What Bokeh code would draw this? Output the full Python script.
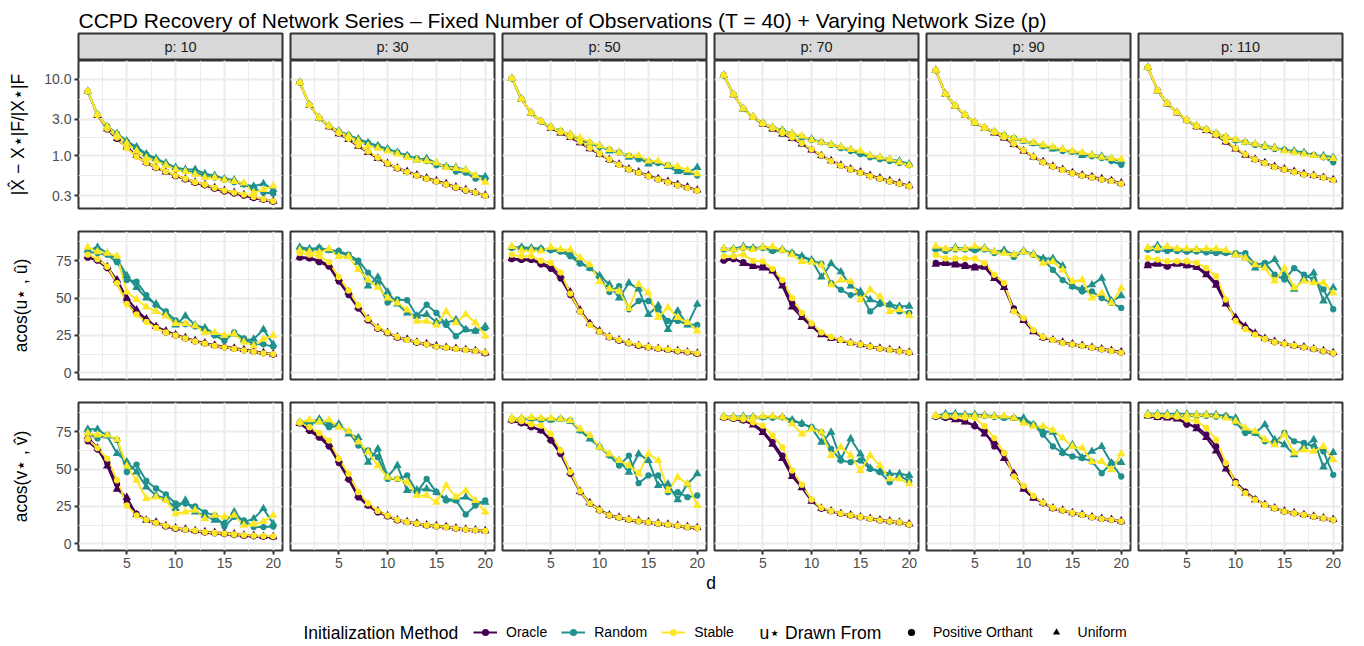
import math
from bokeh.plotting import figure
from bokeh.layouts import column, row
from bokeh.models import Range1d, FixedTicker, CustomJSTickFormatter, Label, Legend, LegendItem
from bokeh.embed import file_html
from bokeh.resources import INLINE

FONT = "Liberation Sans"

# ---------------- data ----------------
D = list(range(1, 21))
P_VALUES = [10, 30, 50, 70, 90, 110]
METHODS = ["Oracle", "Random", "Stable"]
METHOD_COLORS = ["#440154", "#21908C", "#FDE725"]
SHAPES = ["Positive Orthant", "Uniform"]
SHAPE_MARKERS = ["circle", "triangle"]
ERR_TICKS = [0.3, 1.0, 3.0, 10.0]
ANGLE_TICKS = [0, 25, 50, 75]
ANGLE_LIMITS = [0, 90]
D_TICKS = [5, 10, 15, 20]

# relative Frobenius error (one list per p)
ERR_ORACLE_PO = [
    [6.9, 3.4, 2.2, 1.65, 1.28, 0.98, 0.80, 0.69, 0.62, 0.54, 0.49, 0.44, 0.41, 0.37, 0.34, 0.32, 0.30, 0.28, 0.265, 0.25],
    [9.0, 4.6, 3.1, 2.4, 1.95, 1.65, 1.35, 1.12, 0.93, 0.78, 0.68, 0.61, 0.55, 0.50, 0.46, 0.42, 0.38, 0.35, 0.33, 0.30],
    [10.2, 5.5, 3.6, 2.8, 2.3, 2.0, 1.75, 1.5, 1.25, 1.05, 0.88, 0.76, 0.66, 0.60, 0.54, 0.49, 0.45, 0.41, 0.38, 0.35],
    [11.2, 6.3, 4.1, 3.2, 2.6, 2.25, 1.95, 1.7, 1.45, 1.2, 1.0, 0.85, 0.74, 0.66, 0.60, 0.54, 0.50, 0.46, 0.43, 0.40],
    [13.0, 6.4, 4.45, 3.4, 2.7, 2.3, 2.0, 1.72, 1.41, 1.16, 0.96, 0.82, 0.72, 0.65, 0.59, 0.55, 0.52, 0.49, 0.47, 0.43],
    [14.2, 7.1, 4.8, 3.65, 2.9, 2.4, 2.15, 1.86, 1.53, 1.23, 1.03, 0.89, 0.80, 0.71, 0.66, 0.61, 0.57, 0.55, 0.52, 0.48],
]
ERR_ORACLE_UN = [
    [6.9, 3.35, 2.25, 1.68, 1.3, 1.0, 0.82, 0.70, 0.61, 0.55, 0.50, 0.45, 0.42, 0.38, 0.35, 0.33, 0.31, 0.285, 0.27, 0.255],
    [9.0, 4.55, 3.1, 2.38, 1.93, 1.62, 1.33, 1.1, 0.92, 0.79, 0.69, 0.62, 0.56, 0.51, 0.47, 0.43, 0.39, 0.36, 0.33, 0.305],
    [10.2, 5.45, 3.6, 2.78, 2.28, 1.98, 1.72, 1.47, 1.23, 1.04, 0.89, 0.77, 0.67, 0.61, 0.55, 0.50, 0.46, 0.42, 0.39, 0.355],
    [11.2, 6.25, 4.1, 3.18, 2.58, 2.23, 1.92, 1.67, 1.42, 1.18, 1.0, 0.86, 0.75, 0.67, 0.61, 0.55, 0.51, 0.47, 0.44, 0.405],
    [13.0, 6.35, 4.4, 3.38, 2.68, 2.28, 1.98, 1.7, 1.4, 1.15, 0.96, 0.83, 0.73, 0.66, 0.60, 0.56, 0.53, 0.50, 0.47, 0.44],
    [14.2, 7.05, 4.75, 3.62, 2.88, 2.38, 2.12, 1.84, 1.51, 1.22, 1.02, 0.90, 0.81, 0.72, 0.67, 0.62, 0.58, 0.55, 0.52, 0.485],
]
ERR_RANDOM_PO = [
    [6.9, 3.45, 2.4, 1.92, 1.52, 1.25, 1.03, 0.89, 0.77, 0.67, 0.63, 0.60, 0.55, 0.52, 0.49, 0.45, 0.42, 0.37, 0.33, 0.32],
    [9.0, 4.6, 3.1, 2.45, 2.05, 1.85, 1.6, 1.45, 1.32, 1.2, 1.1, 1.0, 0.92, 0.85, 0.75, 0.72, 0.62, 0.60, 0.50, 0.50],
    [10.2, 5.5, 3.6, 2.8, 2.35, 2.1, 1.85, 1.6, 1.45, 1.3, 1.2, 1.1, 1.0, 0.90, 0.85, 0.80, 0.75, 0.65, 0.62, 0.55],
    [11.2, 6.3, 4.1, 3.2, 2.65, 2.3, 2.1, 1.9, 1.75, 1.6, 1.5, 1.38, 1.25, 1.15, 1.05, 0.95, 0.90, 0.85, 0.80, 0.75],
    [13.0, 6.4, 4.45, 3.4, 2.7, 2.3, 2.05, 1.85, 1.7, 1.56, 1.45, 1.33, 1.25, 1.15, 1.12, 1.05, 0.98, 0.93, 0.85, 0.76],
    [14.2, 7.1, 4.8, 3.65, 2.9, 2.45, 2.2, 1.95, 1.75, 1.58, 1.5, 1.38, 1.3, 1.22, 1.2, 1.12, 1.08, 1.02, 0.95, 0.82],
]
ERR_RANDOM_UN = [
    [6.9, 3.45, 2.4, 1.95, 1.55, 1.3, 1.05, 0.92, 0.80, 0.70, 0.66, 0.66, 0.58, 0.55, 0.50, 0.48, 0.42, 0.40, 0.43, 0.36],
    [9.0, 4.6, 3.1, 2.45, 2.1, 1.85, 1.65, 1.48, 1.35, 1.22, 1.1, 1.0, 0.88, 0.92, 0.80, 0.72, 0.70, 0.65, 0.55, 0.53],
    [10.2, 5.5, 3.6, 2.8, 2.35, 2.05, 1.9, 1.65, 1.45, 1.35, 1.15, 1.1, 0.95, 0.95, 0.78, 0.82, 0.72, 0.62, 0.60, 0.70],
    [11.2, 6.3, 4.1, 3.2, 2.65, 2.35, 2.15, 1.95, 1.75, 1.65, 1.5, 1.4, 1.3, 1.2, 1.1, 1.0, 0.95, 0.90, 0.85, 0.78],
    [13.0, 6.4, 4.45, 3.4, 2.7, 2.3, 2.05, 1.83, 1.68, 1.55, 1.45, 1.35, 1.22, 1.2, 1.12, 1.0, 1.02, 0.98, 0.92, 0.85],
    [14.2, 7.1, 4.8, 3.65, 2.9, 2.45, 2.2, 1.95, 1.75, 1.6, 1.5, 1.42, 1.35, 1.28, 1.18, 1.15, 1.1, 1.0, 1.0, 0.95],
]
ERR_STABLE_PO = [
    [6.95, 3.4, 2.25, 1.72, 1.25, 0.97, 0.81, 0.70, 0.62, 0.55, 0.50, 0.45, 0.42, 0.38, 0.35, 0.33, 0.31, 0.29, 0.27, 0.255],
    [9.05, 4.6, 3.15, 2.42, 1.97, 1.66, 1.36, 1.13, 0.94, 0.79, 0.69, 0.61, 0.55, 0.50, 0.46, 0.42, 0.385, 0.355, 0.33, 0.30],
    [10.25, 5.5, 3.65, 2.82, 2.32, 2.02, 1.77, 1.52, 1.26, 1.06, 0.89, 0.76, 0.66, 0.60, 0.54, 0.49, 0.45, 0.41, 0.38, 0.35],
    [11.25, 6.3, 4.15, 3.22, 2.62, 2.27, 1.97, 1.72, 1.46, 1.21, 1.01, 0.85, 0.74, 0.66, 0.60, 0.54, 0.50, 0.46, 0.43, 0.40],
    [13.05, 6.4, 4.5, 3.42, 2.72, 2.32, 2.02, 1.74, 1.43, 1.17, 0.97, 0.82, 0.72, 0.65, 0.59, 0.55, 0.52, 0.49, 0.465, 0.43],
    [14.25, 7.1, 4.85, 3.68, 2.92, 2.42, 2.17, 1.88, 1.55, 1.24, 1.04, 0.89, 0.80, 0.71, 0.66, 0.61, 0.57, 0.55, 0.515, 0.48],
]
ERR_STABLE_UN = [
    [6.9, 3.45, 2.38, 1.88, 1.45, 1.15, 0.93, 0.85, 0.75, 0.66, 0.62, 0.57, 0.52, 0.52, 0.48, 0.46, 0.44, 0.33, 0.36, 0.40],
    [9.0, 4.6, 3.1, 2.45, 2.05, 1.8, 1.55, 1.35, 1.25, 1.15, 1.05, 0.95, 0.88, 0.85, 0.80, 0.70, 0.68, 0.65, 0.55, 0.45],
    [10.2, 5.5, 3.6, 2.8, 2.35, 2.1, 1.9, 1.7, 1.5, 1.35, 1.2, 1.1, 1.0, 1.0, 0.85, 0.85, 0.75, 0.72, 0.65, 0.58],
    [11.2, 6.3, 4.1, 3.2, 2.65, 2.35, 2.1, 1.95, 1.8, 1.6, 1.5, 1.4, 1.3, 1.2, 1.15, 1.0, 0.95, 0.90, 0.82, 0.75],
    [13.0, 6.4, 4.45, 3.4, 2.7, 2.3, 2.05, 1.85, 1.7, 1.58, 1.48, 1.38, 1.3, 1.2, 1.15, 1.1, 1.02, 0.95, 0.92, 0.90],
    [14.2, 7.1, 4.8, 3.65, 2.9, 2.45, 2.2, 1.95, 1.78, 1.62, 1.5, 1.42, 1.32, 1.25, 1.15, 1.1, 1.05, 1.0, 0.95, 0.92],
]

# acos(u*, u_hat)
U_ORACLE_PO = [
    [77, 75, 70, 60, 47, 40, 35, 30.5, 27, 25, 23, 21, 19.5, 18, 17, 16, 15, 14, 13, 12.2],
    [77, 76.5, 74, 71, 61, 52, 43, 35, 29.5, 26.5, 23.5, 22, 20, 19, 17.5, 16.8, 16, 15.3, 14.6, 13],
    [76, 75.5, 75.5, 72.5, 69.5, 63, 52, 41, 32.5, 27.5, 23.7, 21.5, 19.7, 18, 17, 16, 15.3, 14.4, 13.7, 12.6],
    [75, 76, 74, 71.5, 71, 68.5, 60, 46.5, 39, 32, 26, 23.5, 22, 20, 19, 17.5, 16.2, 15.3, 14.4, 13.5],
    [73.5, 73.5, 73, 72, 71, 71.5, 64, 58.5, 43, 35.5, 28, 23.5, 22, 20, 19, 18, 16.8, 15.7, 14.6, 13.5],
    [72.3, 73.5, 71, 73.5, 72, 71, 66.8, 60, 48, 36, 30.3, 26, 22.6, 20.4, 19.2, 18.1, 17, 15.9, 14.4, 13],
]
U_ORACLE_UN = [
    [78, 76, 71, 62, 50, 42, 36, 31, 28, 25.5, 23.5, 21.5, 20, 18.5, 17.5, 16.5, 15.5, 14.5, 13.5, 12.5],
    [77.5, 77, 75, 72, 63, 54, 44, 36, 30, 27, 24, 22.5, 20.5, 19.5, 18, 17, 16.2, 15.5, 14.8, 13.2],
    [76.5, 76, 76, 73.5, 71, 65, 54, 42, 33, 28, 24, 22, 20, 18.3, 17.3, 16.3, 15.5, 14.7, 14, 13],
    [76, 76.5, 73, 71, 70, 68, 58, 44, 37, 31, 25.5, 23, 21.5, 20, 18.8, 17.5, 16.5, 15.5, 14.8, 13.8],
    [72.5, 73, 72, 71, 70, 70.5, 63, 57, 42, 35, 27.5, 23.5, 22, 20.5, 19.3, 18.2, 17, 16, 15, 14],
    [71.5, 72.5, 71.5, 72.5, 71.5, 70.5, 65.5, 58.5, 46, 37, 31, 26.5, 23, 21, 19.5, 18.3, 17.2, 16, 14.8, 13.5],
]
U_RANDOM_PO = [
    [81, 80, 79, 74, 62, 61, 52, 45, 41, 35, 32.5, 31, 29, 25, 21.5, 27, 23, 19, 19, 17.5],
    [83, 82, 83.5, 82, 81.5, 79, 75, 67, 60, 47, 49, 48.5, 38, 45.5, 40, 32, 24.5, 29, 28, 30],
    [83.5, 83.5, 83, 83, 82, 81, 78, 73, 70, 64, 54, 58, 42.5, 48, 48, 42.5, 34.7, 34.7, 32.5, 32],
    [82.5, 82.5, 83.5, 83, 83.5, 81.5, 82, 80, 77.5, 75, 73, 60, 55.5, 52, 53, 41, 46, 45.5, 41, 40],
    [82.5, 81.5, 82.5, 82.5, 82, 82.5, 80, 81, 77.5, 81, 78.8, 76, 68.8, 62, 57.7, 54.4, 54.4, 50, 46.7, 43.4],
    [82.3, 82, 81.5, 81.5, 81, 81.2, 80.5, 80, 80, 80, 80, 72.3, 73.5, 65.7, 62.4, 70, 65.7, 62.4, 55.8, 42.5],
]
U_RANDOM_UN = [
    [82, 84, 80, 76, 65, 57, 50, 46, 40, 32, 38, 32, 30, 26, 24, 26, 22, 22.5, 29, 19],
    [84, 83, 83.5, 82, 81, 78, 74, 58, 64, 54, 46, 40, 38, 39, 34, 33.5, 35.5, 29, 28, 31],
    [84, 84, 83.5, 83, 82.5, 82, 79.5, 74, 70, 65, 59, 50, 60, 56, 39, 45, 29, 41.4, 32, 45.8],
    [83, 83, 84.5, 83.5, 84, 82, 82.5, 80, 78, 75.5, 64, 73, 67.5, 58, 54.4, 48.9, 46.7, 45.6, 44.5, 44.5],
    [83.5, 82.5, 83.8, 83, 82.5, 83.5, 81, 82, 79, 81.5, 79.5, 76.5, 76.5, 71.5, 58, 56, 58.8, 63.3, 48, 51.5],
    [83, 85.2, 82.5, 82.5, 82, 82.5, 82.3, 81.2, 80.5, 79, 77, 70, 72, 75.7, 65, 55.8, 63, 66.8, 48, 56.9],
]
U_STABLE_PO = [
    [79, 76, 71, 60, 46, 39, 34, 30, 27, 25, 23, 21, 19.5, 18, 17, 16, 15, 14, 13, 12.5],
    [80, 79, 78, 74, 64, 55, 45, 36, 30, 27, 24, 22, 20.5, 19, 17.5, 16.8, 16, 15.3, 14.6, 13.5],
    [79, 78, 78, 75, 73.5, 67, 53, 41, 32, 27.5, 24, 22, 20, 18.5, 17.3, 16.3, 15.5, 14.7, 14, 13],
    [78, 78, 79, 75, 74.5, 69.5, 62, 50, 40, 33, 27, 24, 22, 20, 19, 17.5, 16.2, 15.3, 14.4, 13.6],
    [78.8, 76.5, 76.5, 76.5, 76.5, 73.2, 65.5, 60, 41, 36.5, 28.5, 24, 22, 20, 19, 18, 16.8, 15.7, 14.6, 13.5],
    [76.8, 75.7, 74.6, 74.6, 74.6, 73.5, 70, 64.6, 49, 34.7, 29.2, 25.5, 22.6, 20.5, 19.3, 18.2, 17, 16, 14.5, 13.2],
]
U_STABLE_UN = [
    [84, 81, 80, 78, 54, 49, 44, 41, 38, 33, 33, 31.5, 27, 27, 25, 26, 20.5, 18, 22.5, 25],
    [82, 81, 80.5, 83, 77.7, 77.7, 69, 62, 57, 50, 46.7, 42, 34.5, 34.5, 32, 41, 33.5, 39, 33.5, 24.6],
    [84.5, 82, 82, 81.5, 84, 82.5, 82.3, 77, 72.3, 61, 56, 54.6, 43, 59, 53.5, 37, 43.6, 37, 33.6, 28],
    [83.2, 82.5, 83.5, 82.5, 84, 84.3, 82, 79, 74.5, 74, 72, 58.8, 62, 61, 48.9, 55.5, 51, 41, 42.3, 38.3],
    [84.7, 83, 83, 83, 84.7, 83, 81, 80, 79, 81, 79, 73.2, 74.3, 68.8, 61, 62, 50, 53.3, 46.7, 56.6],
    [83.8, 83.5, 84.5, 83, 83, 82.5, 83, 83, 82, 79, 76.8, 72.3, 70, 61.3, 70, 56.9, 61.3, 60.2, 60.2, 53.5],
]

# acos(v*, v_hat)
V_ORACLE_PO = [
    [68.5, 63, 54, 40, 28, 20, 16, 13.9, 11.6, 10, 9.4, 8.5, 7.5, 7, 6.5, 5.8, 5.3, 5, 4.7, 4.5],
    [80.5, 75.5, 71, 65, 54, 43, 31, 25.5, 21, 18.3, 15.6, 14.5, 13.4, 12.2, 11.6, 11.1, 10.2, 9.5, 9, 8.5],
    [82.4, 80.6, 78, 75.7, 69, 60, 46.8, 34.5, 26.7, 22.3, 18.9, 17.4, 16, 15.1, 14.3, 13.4, 12.7, 12, 11.1, 10.5],
    [84.2, 83.5, 82.4, 80.2, 75.7, 68, 59, 46.8, 39, 29, 23.4, 21.8, 20, 18.9, 17.8, 16.7, 15.6, 14.9, 14.3, 12.9],
    [84.8, 84.2, 83.5, 82, 78.6, 75.2, 65.1, 60.7, 46.1, 37.2, 31.1, 27.1, 23.7, 22.2, 20.4, 19.3, 17.7, 16.6, 15.9, 14.8],
    [85.7, 84.8, 84.8, 84.2, 79.7, 78.6, 73, 65.1, 52.8, 41.6, 34.9, 29.8, 26, 23.7, 21.5, 20.4, 19.3, 18.1, 17, 15.9],
]
V_ORACLE_UN = [
    [71.5, 64, 52, 36.5, 31, 19.5, 15.7, 14.5, 12, 10.5, 9.8, 8.8, 8, 7.5, 7.2, 6.5, 5.8, 5.5, 4.9, 4.7],
    [80.5, 76.5, 72, 66.5, 56, 44, 32.5, 26, 22, 18.8, 16, 14.8, 13.7, 12.6, 12, 11.4, 10.5, 9.8, 9.2, 8.7],
    [82.8, 81, 78.5, 76, 70, 61.5, 48, 35, 27.5, 22.8, 19.3, 17.7, 16.3, 15.4, 14.6, 13.7, 13, 12.3, 11.4, 10.8],
    [84.5, 84, 82.8, 79.5, 74.5, 66.5, 57, 45, 37.5, 28.5, 23.8, 22, 20.3, 19.2, 18, 17, 16, 15.2, 14.5, 13.2],
    [85.2, 84.5, 83, 81.5, 79.5, 73.5, 68, 57, 47, 36.5, 30.5, 27.5, 24, 22.5, 20.7, 19.6, 18, 17, 16.2, 15.2],
    [85.5, 84.5, 84.2, 83.5, 81, 77, 71, 62, 50, 40.5, 34, 29.5, 26.3, 24, 22, 20.7, 19.5, 18.4, 17.3, 16.3],
]
V_RANDOM_PO = [
    [73.5, 70.5, 72.8, 69.4, 48, 53, 42, 37, 33, 27, 26.9, 25, 21, 19, 11.6, 18, 15.7, 11.2, 11.2, 11.5],
    [81.3, 80.2, 82, 78, 79, 75, 65.7, 62.4, 57.9, 43.4, 43.4, 45.7, 34.5, 43.4, 34.5, 29, 29, 19.6, 25.6, 29],
    [83.5, 83.5, 83.5, 83, 83, 83.5, 82.5, 75.7, 71.3, 64.6, 59, 52.3, 59, 40.5, 45.7, 45.7, 34.5, 34.5, 31.2, 32.3],
    [85, 84.6, 84.3, 84.6, 84.6, 84.3, 84.6, 82.4, 80.2, 78, 74.6, 63.5, 55.7, 54.6, 55.7, 50.1, 47.9, 41.2, 45.5, 41.9],
    [85.2, 85, 85.5, 85, 85, 85.5, 84.8, 84.2, 84.2, 81.9, 79.7, 73, 65.1, 60.7, 58.4, 57.3, 55.1, 47.2, 54, 45],
    [85.7, 85.7, 85.5, 85.7, 85.5, 85.5, 85.5, 85, 85.3, 81.3, 74.1, 74.1, 68.5, 67.4, 74.1, 68.5, 67.4, 65.1, 61.8, 46.1],
]
V_RANDOM_UN = [
    [76.6, 76.6, 72, 60.4, 54.8, 48, 38, 32.5, 30.2, 23.5, 29.1, 21.3, 19, 15.7, 14, 21.3, 14.5, 16.8, 23.5, 13.4],
    [81.3, 81, 83.5, 80, 80.2, 73.5, 71, 54.6, 63.5, 45, 52.3, 35.6, 36, 36.7, 34.5, 30, 29.5, 31.2, 27.8, 27.8],
    [83.8, 84, 84, 83.5, 82.9, 83.5, 82, 76, 70, 65, 59.5, 55.7, 47.9, 60.1, 55.7, 39, 40, 29.4, 40, 46.8],
    [85.3, 85, 85.3, 85, 84.6, 85, 84.6, 82.8, 80.5, 77.5, 67.9, 74.6, 56.5, 70.2, 60.1, 50.5, 48.5, 46.8, 46.8, 45.7],
    [85.7, 87, 87, 86.5, 86.5, 86, 85.5, 84.8, 84.2, 84.2, 79.7, 75.2, 74.6, 61.1, 66.3, 57.5, 61.8, 65.1, 54, 54.4],
    [87, 87, 86.8, 87, 86.8, 86.5, 86.5, 86.5, 85.3, 84.2, 76, 74.1, 79.7, 69.6, 66.3, 59.5, 65.1, 69.6, 51.3, 61.1],
]
V_STABLE_PO = [
    [70, 64, 57, 42.5, 25.7, 19, 16, 14, 12, 10.5, 9.5, 8.8, 7.8, 7.2, 6.8, 6.2, 5.8, 5.4, 5.2, 5],
    [81, 78, 74, 69, 56.8, 46.8, 34.5, 27, 22, 18.8, 16, 14.6, 13.5, 12.4, 11.8, 11.2, 10.3, 9.6, 9.1, 8.6],
    [83, 82, 80, 79, 73.5, 62.4, 48, 35, 27, 22.5, 19, 17.5, 16.2, 15.2, 14.4, 13.5, 12.8, 12.1, 11.3, 10.6],
    [84.5, 84, 83.3, 81.3, 79, 72.4, 64.6, 49, 39.5, 29.5, 24, 22, 20.2, 19, 17.9, 16.8, 15.7, 15, 14.4, 13],
    [85.5, 85.5, 85, 84.5, 84.2, 78.6, 70.7, 60.7, 45, 38.7, 32, 27.5, 24, 22.4, 20.6, 19.4, 17.8, 16.7, 16, 15],
    [86, 85.5, 85.5, 85, 83.1, 82, 77.5, 69.6, 54, 40.5, 33.8, 29.5, 26, 23.8, 21.6, 20.5, 19.4, 18.2, 17.1, 16],
]
V_STABLE_UN = [
    [73.9, 72.8, 72.8, 69.8, 52, 42.5, 30.2, 31.3, 29.1, 20.1, 21.3, 22.4, 16.8, 19, 17.9, 19, 12.3, 13, 15, 19],
    [81.5, 82.9, 81.5, 82.9, 78, 75.3, 68, 61.2, 52.3, 44.5, 43.4, 41.2, 32.3, 32.3, 27.8, 39, 31.2, 35.6, 29, 21.2],
    [84.2, 84.2, 84.5, 84, 84, 83.5, 82.4, 76.8, 72.4, 64.6, 60.1, 55.7, 52.3, 46.8, 60.1, 55.7, 35.6, 44.5, 40.1, 25.6],
    [85.3, 84.6, 84.6, 84.6, 85.3, 85.3, 84.6, 80.2, 73.5, 76.8, 74.6, 59, 64.6, 59, 49, 59, 52.3, 43.4, 43.4, 40.1],
    [85.7, 85.5, 85.7, 85.7, 85.5, 85.5, 85.2, 85.5, 84.2, 80.8, 78.6, 78.6, 75.9, 70.7, 65.1, 64, 55.1, 55.1, 49.5, 60.2],
    [86.4, 86.4, 86, 86, 86, 86.2, 86, 85.5, 84.2, 82, 77.5, 75.2, 69.6, 66.3, 73, 60.7, 62.9, 61.8, 65.1, 56.2],
]

SERIES = {
    "err": {("Oracle", 0): ERR_ORACLE_PO, ("Oracle", 1): ERR_ORACLE_UN,
            ("Random", 0): ERR_RANDOM_PO, ("Random", 1): ERR_RANDOM_UN,
            ("Stable", 0): ERR_STABLE_PO, ("Stable", 1): ERR_STABLE_UN},
    "u": {("Oracle", 0): U_ORACLE_PO, ("Oracle", 1): U_ORACLE_UN,
          ("Random", 0): U_RANDOM_PO, ("Random", 1): U_RANDOM_UN,
          ("Stable", 0): U_STABLE_PO, ("Stable", 1): U_STABLE_UN},
    "v": {("Oracle", 0): V_ORACLE_PO, ("Oracle", 1): V_ORACLE_UN,
          ("Random", 0): V_RANDOM_PO, ("Random", 1): V_RANDOM_UN,
          ("Stable", 0): V_STABLE_PO, ("Stable", 1): V_STABLE_UN},
}

ROW_SPECS = [
    dict(key="err", label="|X\u0302 \u2212 X\u22c6|F/|X\u22c6|F", log=True, ticks=ERR_TICKS, standoff=13),
    dict(key="u", label="acos(u\u22c6 , u\u0302)", log=False, ticks=ANGLE_TICKS, standoff=22),
    dict(key="v", label="acos(v\u22c6 , v\u0302)", log=False, ticks=ANGLE_TICKS, standoff=22),
]

TITLE = "CCPD Recovery of Network Series \u2013 Fixed Number of Observations (T = 40) + Varying Network Size (p)"

# ---------------- style ----------------
W_FRAME, H_FRAME = 204, 148
GRID_COL = "#EBEBEB"
BORDER_COL = "#333333"
TICK_TEXT_COL = "#4D4D4D"
TICK_FS = "14px"
STRIP_FS = "14.5px"
AXIS_TITLE_FS = "17.5px"
CIRCLE_SIZE = 6.3
TRI_SIZE = 8.6
LINE_W = 2.0


def expand(lo, hi, f=0.05):
    r = hi - lo
    return lo - f * r, hi + f * r


def col_borders(c):
    left = 78 if c == 0 else 4
    right = 22 if c == len(P_VALUES) - 1 else 4
    return left, right


x_lo, x_hi = expand(min(D), max(D))
x_minor = [t - 2.5 for t in D_TICKS]


def style_axis(ax):
    ax.axis_line_color = None
    ax.major_tick_line_color = BORDER_COL
    ax.major_tick_line_width = 2
    ax.major_tick_out = 4
    ax.major_tick_in = 0
    ax.minor_tick_line_color = None
    ax.major_label_text_font = FONT
    ax.major_label_text_font_size = TICK_FS
    ax.major_label_text_color = TICK_TEXT_COL
    ax.major_label_standoff = 3
    ax.axis_label_text_font = FONT
    ax.axis_label_text_font_size = AXIS_TITLE_FS
    ax.axis_label_text_font_style = "normal"
    ax.axis_label_text_color = "#000000"


# ---------------- title ----------------
title_fig = figure(width=1364, height=32, x_range=Range1d(0, 1364), y_range=Range1d(0, 32),
                   x_axis_location=None, y_axis_location=None, toolbar_location=None,
                   output_backend="svg", tools="", min_border=0)
title_fig.grid.visible = False
title_fig.outline_line_color = None
title_fig.add_layout(Label(x=78, y=12, text=TITLE, text_font=FONT, text_font_size="21px",
                           text_color="#000000", text_baseline="alphabetic", text_align="left"))

# ---------------- strips ----------------
strips = []
for c, pv in enumerate(P_VALUES):
    left, right = col_borders(c)
    s = figure(width=left + W_FRAME + right, height=28, x_range=Range1d(0, 1), y_range=Range1d(0, 1),
               x_axis_location=None, y_axis_location=None, toolbar_location=None,
               output_backend="svg", tools="", min_border_left=left, min_border_right=right,
               min_border_top=1, min_border_bottom=0)
    s.grid.visible = False
    s.background_fill_color = "#D9D9D9"
    s.outline_line_color = BORDER_COL
    s.outline_line_width = 2
    s.add_layout(Label(x=0.5, y=0.5, text=f"p: {pv}", text_align="center", text_baseline="middle",
                       text_font=FONT, text_font_size=STRIP_FS, text_color="#1A1A1A"))
    strips.append(s)

# ---------------- panels ----------------
panel_rows = []
n_rows = len(ROW_SPECS)
for r, spec in enumerate(ROW_SPECS):
    data = SERIES[spec["key"]]
    if spec["log"]:
        allv = [v for lst in data.values() for sub in lst for v in sub]
        llo, lhi = expand(math.log10(min(allv)), math.log10(max(allv)))
        y_range = (10 ** llo, 10 ** lhi)
        t = spec["ticks"]
        y_minor = [math.sqrt(a * b) for a, b in zip(t[:-1], t[1:])]
    else:
        y_range = expand(*ANGLE_LIMITS)
        t = spec["ticks"]
        y_minor = [a + (b - a) / 2 for a, b in zip(t[:-1], t[1:])] + [t[-1] + (t[1] - t[0]) / 2]
    figs = []
    for c, pv in enumerate(P_VALUES):
        left, right = col_borders(c)
        top = 0 if r == 0 else 1
        bottom = 22
        p = figure(width=left + W_FRAME + right, height=top + H_FRAME + bottom,
                   x_range=Range1d(x_lo, x_hi), y_range=Range1d(*y_range),
                   y_axis_type="log" if spec["log"] else "linear",
                   x_axis_location="below" if r == n_rows - 1 else None,
                   y_axis_location="left" if c == 0 else None,
                   toolbar_location=None, output_backend="svg", tools="",
                   min_border_left=left, min_border_right=right,
                   min_border_top=top, min_border_bottom=bottom)
        p.outline_line_color = BORDER_COL
        p.outline_line_width = 2
        p.background_fill_color = "#FFFFFF"
        p.xgrid.ticker = FixedTicker(ticks=D_TICKS, minor_ticks=x_minor)
        p.ygrid.ticker = FixedTicker(ticks=spec["ticks"], minor_ticks=y_minor)
        for g in (p.xgrid, p.ygrid):
            g.grid_line_color = GRID_COL
            g.grid_line_width = 2
            g.minor_grid_line_color = GRID_COL
            g.minor_grid_line_width = 1
        if r == n_rows - 1:
            p.xaxis.ticker = FixedTicker(ticks=D_TICKS)
            style_axis(p.xaxis[0])
        if c == 0:
            p.yaxis.ticker = FixedTicker(ticks=spec["ticks"])
            style_axis(p.yaxis[0])
            if spec["log"]:
                p.yaxis.formatter = CustomJSTickFormatter(code="return tick.toFixed(1);")
            p.yaxis.axis_label = spec["label"]
            p.yaxis.axis_label_standoff = spec["standoff"]
        # lines first, then points (ggplot layer order)
        for m, col in zip(METHODS, METHOD_COLORS):
            for si in range(len(SHAPES)):
                p.line(D, data[(m, si)][c], line_color=col, line_width=LINE_W)
        for m, col in zip(METHODS, METHOD_COLORS):
            for si, mk in enumerate(SHAPE_MARKERS):
                p.scatter(D, data[(m, si)][c], marker=mk,
                          size=CIRCLE_SIZE if mk == "circle" else TRI_SIZE,
                          fill_color=col, line_color=None)
        figs.append(p)
    panel_rows.append(figs)

# ---------------- x label + legend ----------------
bot = figure(width=1364, height=74, x_range=Range1d(0, 1364), y_range=Range1d(0, 74),
             x_axis_location=None, y_axis_location=None, toolbar_location=None,
             output_backend="svg", tools="", min_border=0)
bot.grid.visible = False
bot.outline_line_color = None
bot.add_layout(Label(x=710.5, y=64, text="d", text_align="center", text_baseline="middle",
                     text_font=FONT, text_font_size=AXIS_TITLE_FS, text_color="#000000"))
bot.add_layout(Label(x=303, y=14, text="Initialization Method", text_align="left", text_baseline="middle",
                     text_font=FONT, text_font_size=AXIS_TITLE_FS, text_color="#000000"))
bot.add_layout(Label(x=759, y=14, text="u\u22c6 Drawn From", text_align="left", text_baseline="middle",
                     text_font=FONT, text_font_size=AXIS_TITLE_FS, text_color="#000000"))

# legend proxies: a single undefined (NaN) point so nothing is drawn in the plot area
NAN = [float("nan")]
items1 = []
for m, col in zip(METHODS, METHOD_COLORS):
    lr = bot.line(NAN, NAN, line_color=col, line_width=LINE_W)
    sr = bot.scatter(NAN, NAN, marker="circle", size=CIRCLE_SIZE, fill_color=col, line_color=None)
    items1.append(LegendItem(label=m, renderers=[lr, sr]))
items2 = []
for lab, mk in zip(SHAPES, SHAPE_MARKERS):
    sr = bot.scatter(NAN, NAN, marker=mk, size=CIRCLE_SIZE, fill_color="#000000", line_color=None)
    items2.append(LegendItem(label=lab, renderers=[sr]))


def make_legend(items, loc, spacing, standoff):
    lg = Legend(items=items, location=loc, orientation="horizontal", padding=0, margin=0,
                spacing=spacing, label_standoff=standoff, glyph_width=24, glyph_height=18,
                label_height=18, border_line_color=None, background_fill_alpha=0,
                label_text_font=FONT, label_text_font_size="14px", label_text_color="#000000")
    return lg


bot.add_layout(make_legend(items1, (473, 5), 14, 9))
bot.add_layout(make_legend(items2, (899, 5), 11, 10))

layout = column(title_fig, row(*strips), *[row(*fr) for fr in panel_rows], bot)
open("out.html", "w").write(file_html(layout, INLINE))
